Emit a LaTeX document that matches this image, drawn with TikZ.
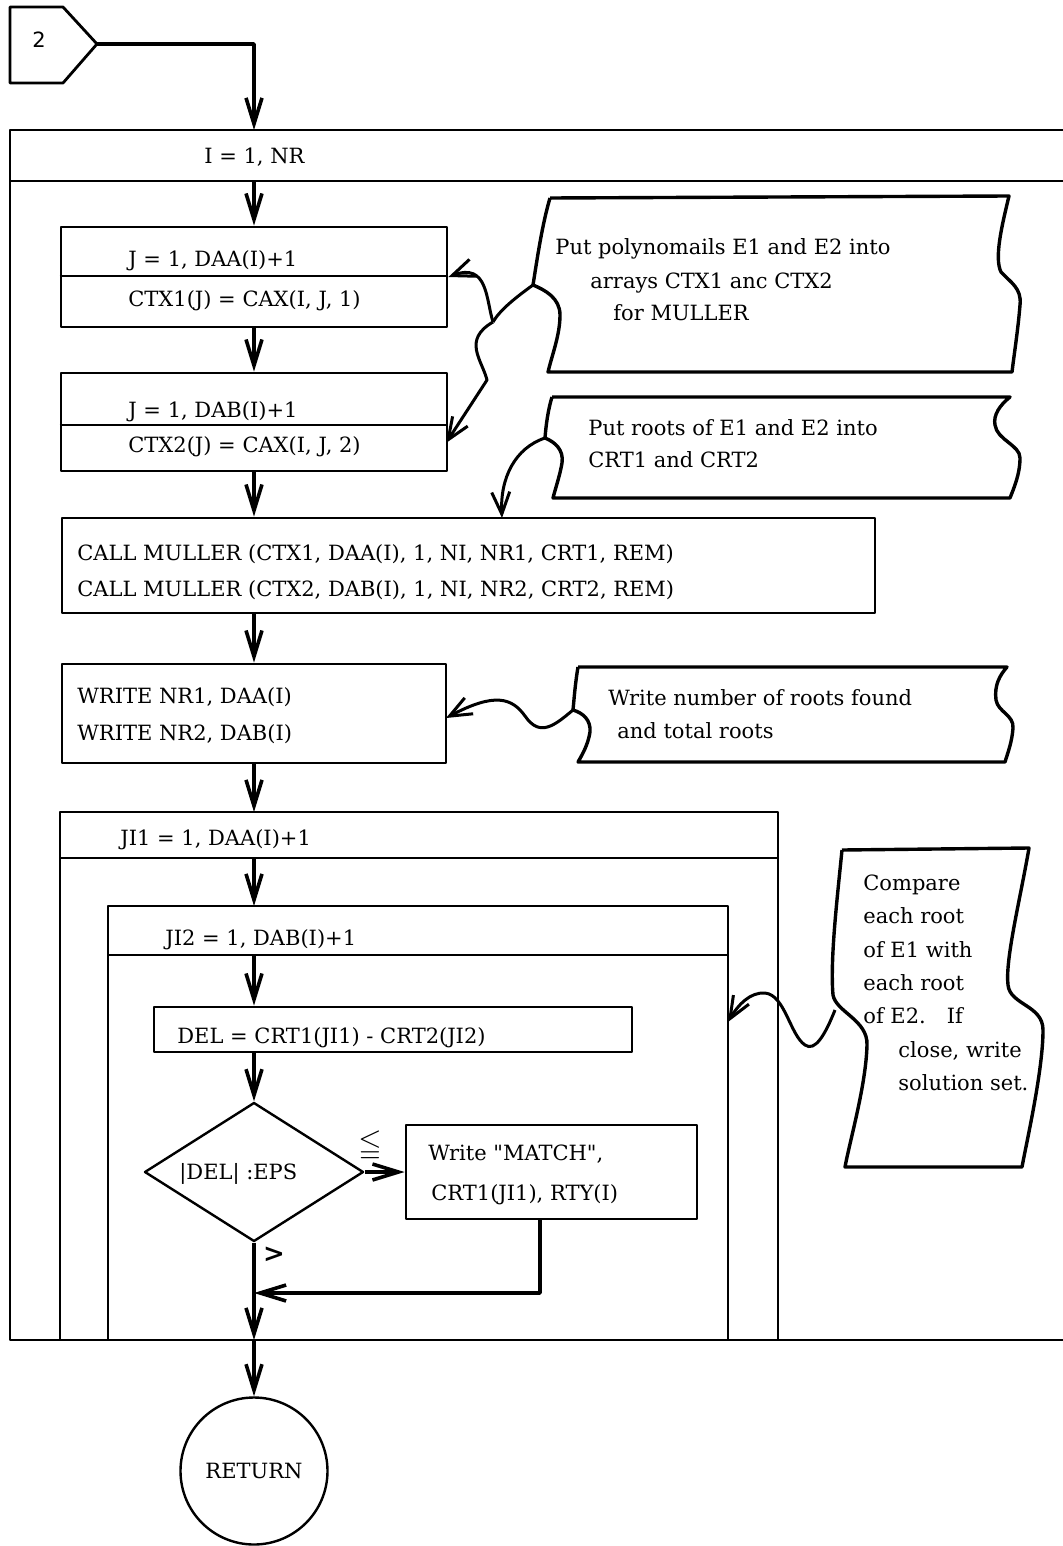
\documentclass[tikz,border=0pt]{standalone}
\usepackage{amssymb}
\usepackage{fontspec}
\setmainfont{DejaVu Serif}
\setsansfont{DejaVu Sans}
\newfontfamily\plainserif{DejaVu Serif}[Ligatures=TeXOff]
\usetikzlibrary{arrows.meta,shapes.geometric,calc}
\tikzset{
  txt/.style={anchor=base west, inner sep=0pt, font=\fontsize{10.5}{12}\selectfont},
  boxnode/.style={draw, line width=1.4pt, inner sep=0pt},
  sepline/.style={line width=1pt},
  loopline/.style={line width=1.4pt},
  flow/.style={line width=1.8pt, -{Straight Barb[length=13pt,width=8pt]}},
  conn/.style={line width=1.5pt},
  carrow/.style={line width=1.5pt, -{Straight Barb[length=11pt,width=9pt]}},
  cmt/.style={line width=1.7pt, line join=round},
}
\begin{document}
\begin{tikzpicture}[x=0.5pt,y=-0.5pt, line join=round]
\useasboundingbox (0,0) rectangle (1063,1546);

% off-page connector
\draw[line width=1.4pt] (10,7) -- (63,7) -- (97,44) -- (63,83) -- (10,83) -- cycle;
\node[font=\sffamily\fontsize{10.5}{12}\selectfont, inner sep=0pt] (c2lab) at (39,40) {2};
\coordinate (c2) at (97,44);

% outer loop I
\draw[loopline] (1063,130) -- (10,130) -- (10,1340) -- (1063,1340);
\draw[sepline] (10,181) -- (1063,181);
\node[txt] (tI) at (204,164) {I = 1, NR};
\coordinate (Itop) at (254,130);
\coordinate (Ibot) at (254,181);
\draw[flow] (c2) -| (Itop);

% box 1
\node[boxnode, minimum width=193pt, minimum height=50pt] (b1) at (254,277) {};
\draw[sepline] (b1.west |- 0,276) -- (b1.east |- 0,276);
\node[txt] (b1a) at (128,266) {J = 1, DAA(I)+1};
\node[txt] (b1b) at (128,306) {CTX1(J) = CAX(I, J, 1)};
\draw[flow] (Ibot) -- (b1.north);

% box 2
\node[boxnode, minimum width=193pt, minimum height=49pt] (b2) at (254,422) {};
\draw[sepline] (b2.west |- 0,425) -- (b2.east |- 0,425);
\node[txt] (b2a) at (128,417) {J = 1, DAB(I)+1};
\node[txt] (b2b) at (128,452) {CTX2(J) = CAX(I, J, 2)};
\draw[flow] (b1.south) -- (b2.north);

% call box
\node[boxnode, minimum width=406.5pt, minimum height=47.5pt] (call) at (468.5,565.5) {};
\node[txt] (calla) at (77,560) {CALL MULLER (CTX1, DAA(I), 1, NI, NR1, CRT1, REM)};
\node[txt] (callb) at (77,596) {CALL MULLER (CTX2, DAB(I), 1, NI, NR2, CRT2, REM)};
\draw[flow] (b2.south) -- (b2.south |- call.north);

% write box
\node[boxnode, minimum width=192pt, minimum height=49.5pt] (wr) at (254,713.5) {};
\node[txt] (wra) at (77,703) {WRITE NR1, DAA(I)};
\node[txt] (wrb) at (77,740) {WRITE NR2, DAB(I)};
\draw[flow] (call.south -| wr.north) -- (wr.north);

% loop JI1
\draw[loopline] (60,1340) -- (60,812) -- (778,812) -- (778,1340);
\draw[sepline] (60,858) -- (778,858);
\node[txt] (tJ1) at (120,845) {JI1 = 1, DAA(I)+1};
\coordinate (J1top) at (254,812);
\coordinate (J1bot) at (254,858);
\draw[flow] (wr.south) -- (J1top);

% loop JI2
\draw[loopline] (108,1340) -- (108,906) -- (728,906) -- (728,1340);
\draw[sepline] (108,955) -- (728,955);
\node[txt] (tJ2) at (165,945) {JI2 = 1, DAB(I)+1};
\coordinate (J2top) at (254,906);
\coordinate (J2bot) at (254,955);
\draw[flow] (J1bot) -- (J2top);

% DEL box
\node[boxnode, minimum width=239pt, minimum height=22.5pt] (del) at (393,1029.5) {};
\node[txt] (delt) at (177,1043) {DEL = CRT1(JI1) - CRT2(JI2)};
\draw[flow] (J2bot) -- (J2bot |- del.north);

% decision
\node[diamond, draw, line width=1.2pt, aspect=1.575, minimum width=109.5pt, minimum height=69.5pt, inner sep=0pt] (dia) at (254,1172) {};
\node[txt] (diat) at (179,1179) {|DEL| :EPS};
\draw[flow] (del.south -| dia.north) -- (dia.north);

% match box
\node[boxnode, minimum width=145.5pt, minimum height=47pt] (mat) at (551.5,1172) {};
\node[txt, font=\plainserif\fontsize{10.5}{12}\selectfont] (mata) at (428,1160) {Write "MATCH",};
\node[txt] (matb) at (431,1200) {CRT1(JI1), RTY(I)};
\draw[flow] (dia.east) -- (mat.west);
\node[inner sep=0pt, font=\fontsize{15}{15}\selectfont] (le) at (370,1146) {$\leqq$};
\node[inner sep=0pt, font=\bfseries\fontsize{13}{13}\selectfont] (gt) at (274,1255) {>};

\coordinate (merge) at (254,1293);
\draw[flow] ([xshift=-5.75pt]mat.south) |- (merge);
\coordinate (Jend) at (254,1340);
\draw[flow] (dia.south) -- (Jend);

% return
\node[circle, draw, line width=1.2pt, minimum size=73.5pt, inner sep=0pt, font=\fontsize{10.5}{12}\selectfont] (ret) at (254,1471) {RETURN};
\draw[flow] (Jend) -- (ret.north);

% comment 1
\draw[cmt] (550,198) -- (1009,196)
  .. controls (1002,225) and (994,258) .. (1001,272)
  .. controls (1010,282) and (1022,288) .. (1020,305)
  .. controls (1018,330) and (1014,355) .. (1012,372)
  -- (548,372)
  .. controls (552,355) and (560,335) .. (560,315)
  .. controls (560,298) and (545,290) .. (533,285)
  .. controls (537,260) and (542,225) .. (550,198);
\coordinate (k1) at (533,285);
\node[txt] (k1a) at (555,255) {Put polynomails E1 and E2 into};
\node[txt] (k1b) at (590,288) {arrays CTX1 anc CTX2};
\node[txt] (k1c) at (613,320) {for MULLER};
\coordinate (k1j) at (493,322);
\draw[conn] (k1) .. controls (515,298) and (500,310) .. (k1j);
\draw[carrow] (k1j) .. controls (486,300) and (488,262) .. (b1.east);
\coordinate (b2in) at (446,443);
\draw[carrow] (k1j) .. controls (462,340) and (482,360) .. (487,380) -- (b2in);

% comment 2
\draw[cmt] (552,397) -- (1010,397)
  .. controls (1000,405) and (993,415) .. (995,425)
  .. controls (997,440) and (1020,445) .. (1020,458)
  .. controls (1020,475) and (1013,490) .. (1010,498)
  -- (553,498)
  .. controls (555,490) and (560,475) .. (562,463)
  .. controls (564,450) and (555,442) .. (545,438)
  .. controls (546,425) and (548,410) .. (552,397);
\coordinate (k2) at (545,438);
\node[txt] (k2a) at (588,435) {Put roots of E1 and E2 into};
\node[txt] (k2b) at (588,467) {CRT1 and CRT2};
\coordinate (callin) at (502,518);
\draw[carrow] (k2) .. controls (515,448) and (500,478) .. (callin);

% comment 3
\draw[cmt] (578,667) -- (1007,667)
  .. controls (1000,675) and (994,685) .. (996,700)
  .. controls (998,712) and (1014,715) .. (1013,728)
  .. controls (1012,742) and (1008,752) .. (1005,762)
  -- (578,762)
  .. controls (582,755) and (588,745) .. (590,732)
  .. controls (591,720) and (583,713) .. (573,710)
  .. controls (574,700) and (575,685) .. (578,667);
\coordinate (k3) at (573,710);
\node[txt] (k3a) at (608,705) {Write number of roots found};
\node[txt] (k3b) at (617,738) {and total roots};
\coordinate (wrin) at (446,718);
\draw[carrow] (k3) .. controls (555,725) and (540,738) .. (525,716)
  .. controls (512,698) and (495,692) .. (wrin);

% comment 4
\draw[cmt] (842,850) -- (1029,848)
  .. controls (1020,900) and (1005,960) .. (1008,985)
  .. controls (1010,1005) and (1043,1005) .. (1043,1030)
  .. controls (1043,1070) and (1027,1140) .. (1022,1167)
  -- (845,1167)
  .. controls (850,1140) and (866,1085) .. (867,1045)
  .. controls (868,1020) and (836,1012) .. (833,995)
  .. controls (830,960) and (837,900) .. (842,850);
\coordinate (k4) at (835,1010);
\node[txt] (k4a) at (863,890) {Compare};
\node[txt] (k4b) at (863,923) {each root};
\node[txt] (k4c) at (863,957) {of E1 with};
\node[txt] (k4d) at (863,990) {each root};
\node[txt] (k4e) at (863,1023) {of E2.\hspace{1em}If};
\node[txt] (k4f) at (898,1057) {close, write};
\node[txt] (k4g) at (898,1090) {solution set.};
\coordinate (j2in) at (728,1022);
\draw[carrow] (k4) .. controls (825,1035) and (815,1052) .. (805,1045)
  .. controls (790,1035) and (785,995) .. (765,993)
  .. controls (750,992) and (738,1005) .. (j2in);
\end{tikzpicture}
\end{document}
